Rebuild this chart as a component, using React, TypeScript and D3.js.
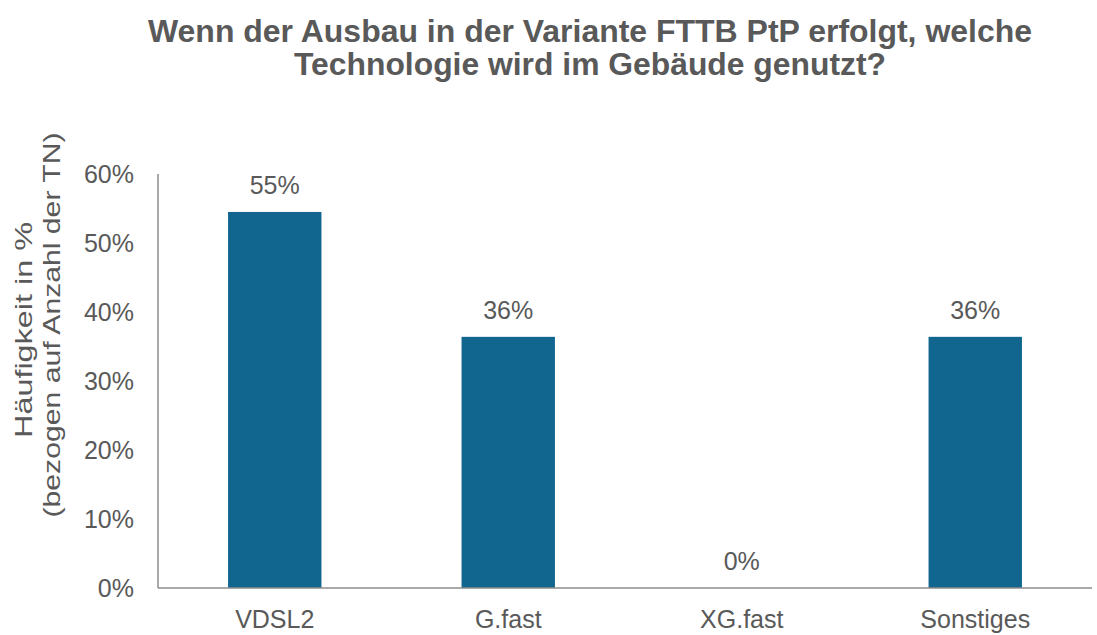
import * as d3 from "d3";
import React from "react";

const categories = ["VDSL2", "G.fast", "XG.fast", "Sonstiges"];
const values = [0.545, 0.364, 0, 0.364];
const valueLabels = ["55%", "36%", "0%", "36%"];
const yTicks = [0, 0.1, 0.2, 0.3, 0.4, 0.5, 0.6];
const titleLines = [
  "Wenn der Ausbau in der Variante FTTB PtP erfolgt, welche",
  "Technologie wird im Gebäude genutzt?",
];
const yTitleLines = ["Häufigkeit in %", "(bezogen auf Anzahl der TN)"];

export default function App() {
  const width = 1097;
  const height = 635;
  const margin = { top: 174, right: 5, bottom: 47, left: 158 };
  const font = "'Liberation Sans', Arial, sans-serif";
  const textColor = "#595959";

  const x = d3
    .scaleBand()
    .domain(categories)
    .range([margin.left, width - margin.right])
    .paddingInner(0.6)
    .paddingOuter(0.3);

  const y = d3
    .scaleLinear()
    .domain([0, 0.6])
    .range([height - margin.bottom, margin.top]);

  const fmt = d3.format(".0%");

  return (
    <svg
      width={width}
      height={height}
      style={{ position: "absolute", left: 0, top: 0, background: "#fff" }}
      fontFamily={font}
    >
      {/* Titel */}
      {titleLines.map((t, i) => (
        <text
          key={t}
          x={590}
          y={42 + i * 33}
          textAnchor="middle"
          fontSize={31}
          fontWeight="bold"
          fill={textColor}
          textLength={i === 0 ? 884 : 592}
          lengthAdjust="spacingAndGlyphs"
        >
          {t}
        </text>
      ))}

      {/* Y-Achsentitel */}
      {yTitleLines.map((t, i) => (
        <text
          key={t}
          transform={`translate(${32 + i * 28},${i === 0 ? 330 : 325}) rotate(-90)`}
          textAnchor="middle"
          fontSize={24}
          fill={textColor}
          textLength={i === 0 ? 216 : 385}
          lengthAdjust="spacingAndGlyphs"
        >
          {t}
        </text>
      ))}

      {/* Y-Ticks */}
      {yTicks.map((v) => (
        <text
          key={v}
          x={134}
          y={y(v)}
          dy="0.35em"
          textAnchor="end"
          fontSize={25}
          fill={textColor}
        >
          {fmt(v)}
        </text>
      ))}

      {/* Balken */}
      {categories.map((c, i) => (
        <rect
          key={c}
          x={x(c)}
          y={y(values[i])}
          width={x.bandwidth()}
          height={y(0) - y(values[i])}
          fill="#10668f"
        />
      ))}

      {/* Achsen */}
      <line
        x1={margin.left}
        x2={margin.left}
        y1={y(0.6)}
        y2={y(0)}
        stroke="#8c8c8c"
        strokeWidth={1.5}
      />
      <line
        x1={margin.left}
        x2={width - margin.right}
        y1={y(0)}
        y2={y(0)}
        stroke="#8c8c8c"
        strokeWidth={1.5}
      />

      {/* Werte */}
      {categories.map((c, i) => (
        <text
          key={c}
          x={(x(c) || 0) + x.bandwidth() / 2}
          y={y(values[i]) - 18}
          textAnchor="middle"
          fontSize={25}
          fill={textColor}
        >
          {valueLabels[i]}
        </text>
      ))}

      {/* Kategorien */}
      {categories.map((c) => (
        <text
          key={c}
          x={(x(c) || 0) + x.bandwidth() / 2}
          y={628}
          textAnchor="middle"
          fontSize={25}
          fill={textColor}
        >
          {c}
        </text>
      ))}
    </svg>
  );
}
